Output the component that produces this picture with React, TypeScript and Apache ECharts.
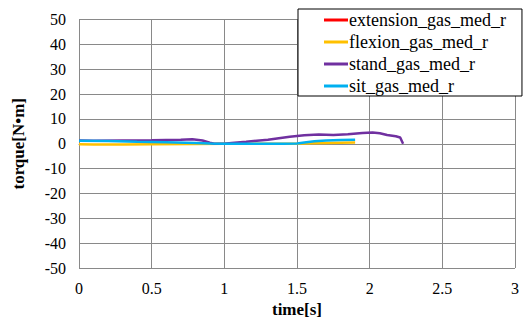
import React, { useEffect, useRef } from "react";
import * as echarts from "echarts";

const xTicks = [0, 0.5, 1, 1.5, 2, 2.5, 3];
const seriesNames = ["extension_gas_med_r", "flexion_gas_med_r", "stand_gas_med_r", "sit_gas_med_r"];
const seriesColors = ["#FF0000", "#FFC000", "#7030A0", "#00B0F0"];

const extensionTime: number[] = [];
const extensionVal: number[] = [];

const flexionTime = [0, 0.1, 0.3, 0.5, 0.8, 1.0, 1.2, 1.5, 1.6, 1.7, 1.8, 1.9];
const flexionVal = [-0.2, -0.3, -0.3, -0.2, -0.1, 0, 0, 0, 0.2, 0.3, 0.4, 0.5];

const standTime = [0, 0.1, 0.3, 0.5, 0.7, 0.78, 0.85, 0.9, 0.93, 1.0, 1.05, 1.15, 1.3, 1.45, 1.55, 1.65, 1.75, 1.85, 1.95, 2.02, 2.07, 2.12, 2.18, 2.21, 2.23];
const standVal = [1.3, 1.2, 1.3, 1.4, 1.6, 1.8, 1.3, 0.4, 0, 0, 0.3, 0.8, 1.6, 2.8, 3.4, 3.7, 3.5, 3.8, 4.3, 4.5, 4.2, 3.5, 3.0, 2.5, 0];

const sitTime = [0, 0.2, 0.4, 0.6, 0.8, 0.9, 1.0, 1.2, 1.4, 1.5, 1.55, 1.62, 1.7, 1.8, 1.9];
const sitVal = [1.2, 1.1, 0.8, 0.6, 0.3, 0.1, 0, 0, 0, 0.1, 0.5, 1.0, 1.3, 1.5, 1.6];

const pairs = (t: number[], v: number[]) => t.map((x, i) => [x, v[i]]);

export default function App() {
  const ref = useRef<HTMLDivElement>(null);
  useEffect(() => {
    if (!ref.current) return;
    const chart = echarts.init(ref.current, undefined, { renderer: "svg" });
    const font = "Times New Roman";
    const data = [
      pairs(extensionTime, extensionVal),
      pairs(flexionTime, flexionVal),
      pairs(standTime, standVal),
      pairs(sitTime, sitVal),
    ];
    chart.setOption({
      animation: false,
      backgroundColor: "#ffffff",
      textStyle: { fontFamily: font },
      grid: { left: 79, right: 10, top: 19.5, bottom: 57 },
      xAxis: {
        type: "value",
        min: 0,
        max: 3,
        interval: 0.5,
        name: "time[s]",
        nameLocation: "middle",
        nameGap: 26,
        nameTextStyle: { fontFamily: font, fontSize: 17, fontWeight: "bold", color: "#000" },
        axisLine: { show: true, lineStyle: { color: "#898989", width: 1 } },
        axisTick: { show: false },
        axisLabel: { fontFamily: font, fontSize: 16, color: "#000", margin: 12 },
        splitLine: { show: true, lineStyle: { color: "#898989", width: 1 } },
      },
      yAxis: {
        type: "value",
        min: -50,
        max: 50,
        interval: 10,
        name: "torque[N•m]",
        nameLocation: "middle",
        nameGap: 52,
        nameTextStyle: { fontFamily: font, fontSize: 17, fontWeight: "bold", color: "#000" },
        axisLine: { show: true, lineStyle: { color: "#898989", width: 1 } },
        axisTick: { show: false },
        axisLabel: { fontFamily: font, fontSize: 16, color: "#000", margin: 13 },
        splitLine: { show: true, lineStyle: { color: "#898989", width: 1 } },
      },
      legend: {
        orient: "vertical",
        left: 298,
        top: 9,
        padding: [2, 16, 1, 26],
        backgroundColor: "#ffffff",
        borderColor: "#000000",
        borderWidth: 1,
        borderRadius: 0,
        itemWidth: 24,
        itemHeight: 3,
        itemGap: 4,
        icon: "rect",
        textStyle: { fontFamily: font, fontSize: 18, color: "#000", lineHeight: 16, padding: [0, 0, 0, -4] },
        data: seriesNames,
      },
      series: seriesNames.map((name, i) => ({
        name,
        type: "line",
        data: data[i],
        showSymbol: false,
        symbol: "none",
        smooth: false,
        lineStyle: { color: seriesColors[i], width: 2.5 },
        itemStyle: { color: seriesColors[i] },
      })),
    });
    return () => chart.dispose();
  }, []);
  return (
    <>
      <style>{`svg text { font-family: "Times New Roman", Tinos, serif !important; }`}</style>
      <div ref={ref} style={{ position: "fixed", left: 0, top: 0, width: 525, height: 325 }} />
    </>
  );
}
